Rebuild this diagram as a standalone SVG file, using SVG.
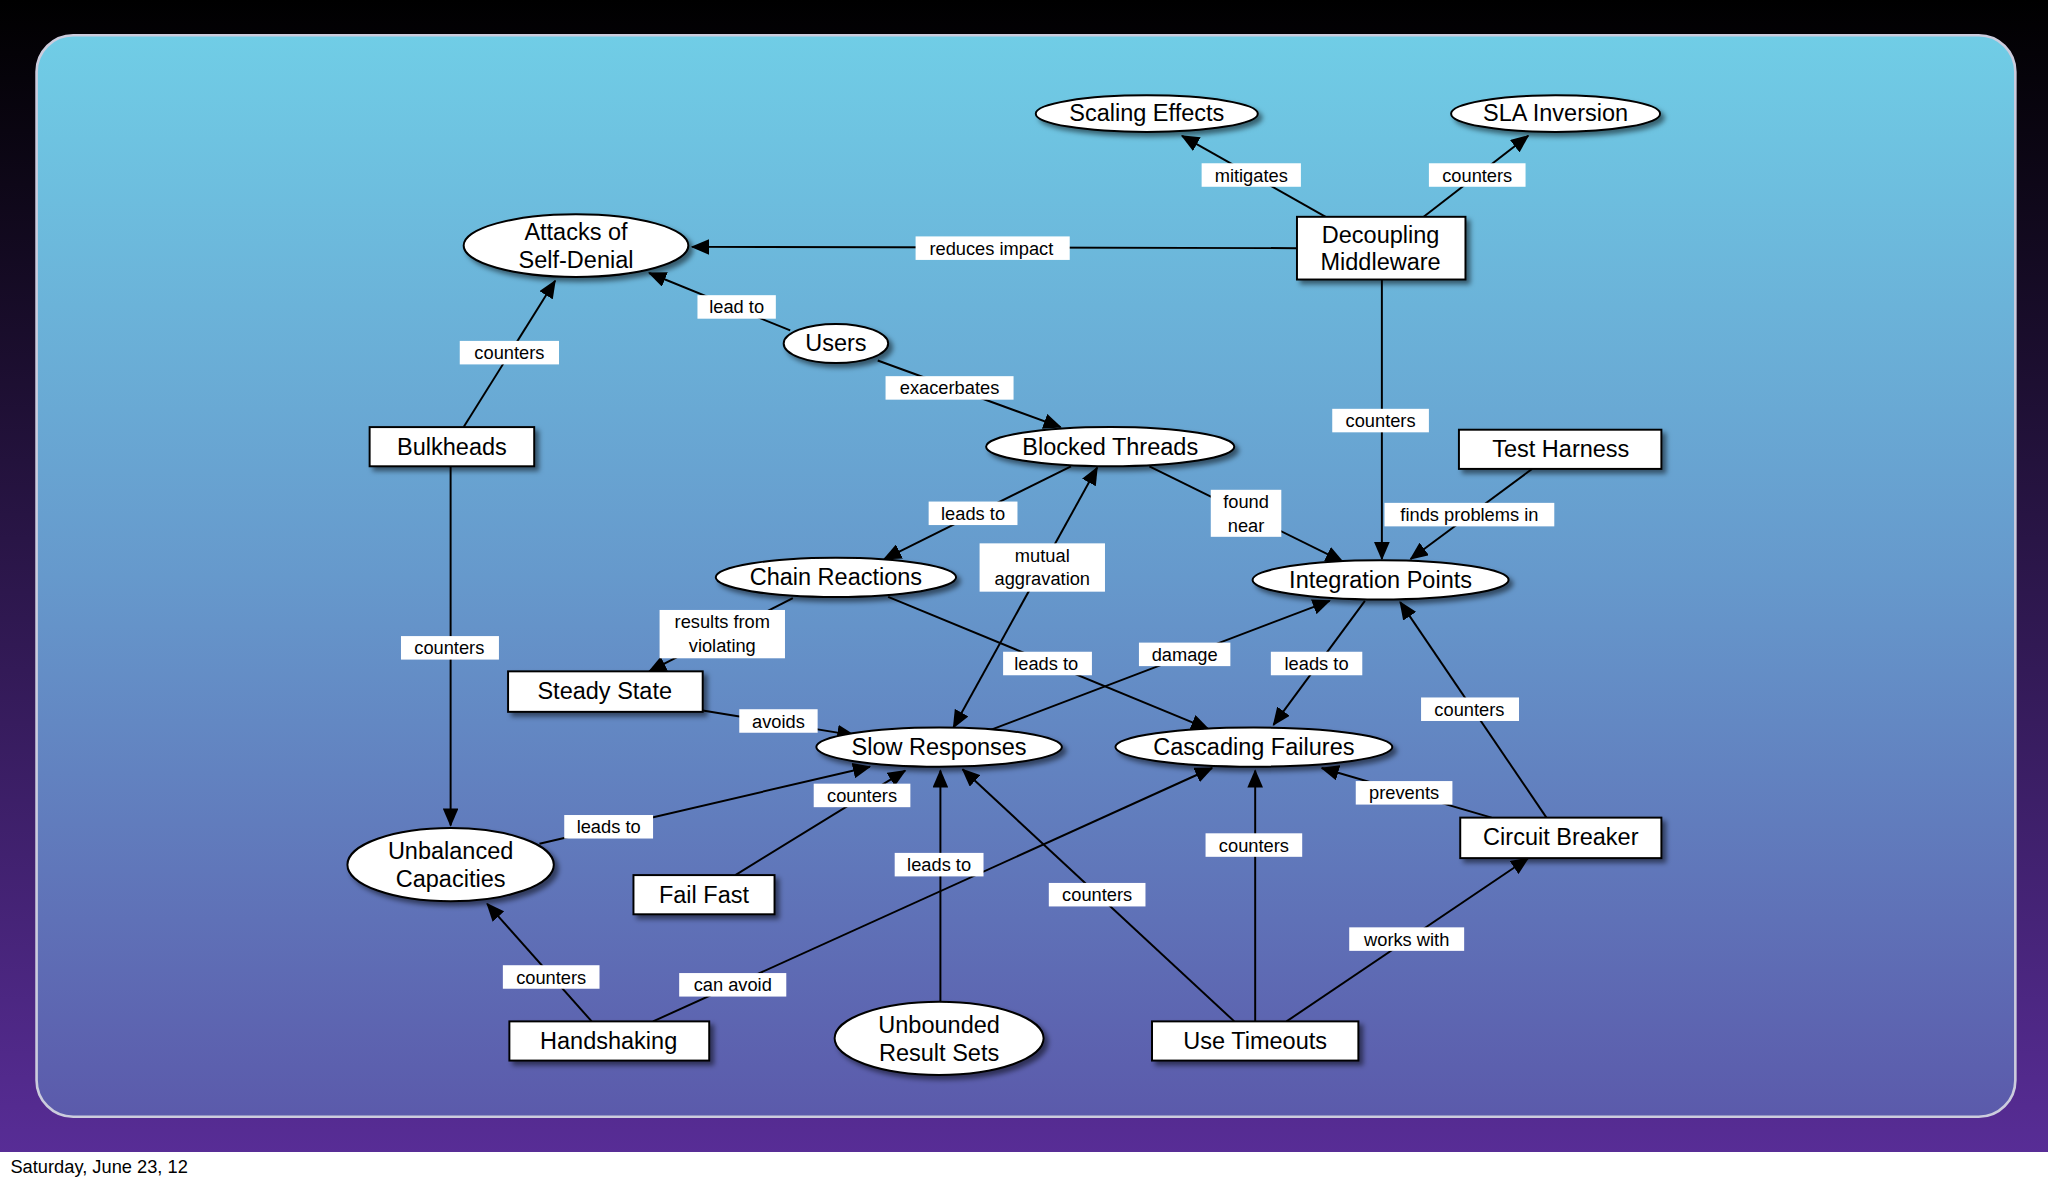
<svg xmlns="http://www.w3.org/2000/svg" width="2048" height="1184" viewBox="0 0 2048 1184">
<defs>
<linearGradient id="bg" x1="0" y1="0" x2="0" y2="1"><stop offset="0" stop-color="#000"/><stop offset="1" stop-color="#5a2e9a"/></linearGradient>
<linearGradient id="panel" x1="0" y1="0" x2="0" y2="1"><stop offset="0" stop-color="#70cde6"/><stop offset="0.5" stop-color="#6699cc"/><stop offset="1" stop-color="#5b5aab"/></linearGradient>
<marker id="ah" markerWidth="14" markerHeight="12" refX="13" refY="6" orient="auto" markerUnits="userSpaceOnUse"><path d="M0,0 L14,6 L0,12 z" fill="#000"/></marker>
<marker id="as" markerWidth="14" markerHeight="12" refX="1" refY="6" orient="auto" markerUnits="userSpaceOnUse"><path d="M14,0 L0,6 L14,12 z" fill="#000"/></marker>
<filter id="sh" x="-20%" y="-30%" width="150%" height="180%"><feDropShadow dx="3" dy="3" stdDeviation="2" flood-color="#000" flood-opacity="0.5"/></filter>
</defs>
<style>
.n{fill:#fff;stroke:#000;stroke-width:1.5;filter:url(#sh)}
.t{font-family:"Liberation Sans",Arial,sans-serif;font-size:18px;text-anchor:middle;fill:#000}
.l{font-family:"Liberation Sans",Arial,sans-serif;font-size:14px;text-anchor:middle;fill:#000}
.lb{fill:#fff}
.e{stroke:#000;stroke-width:1.5;fill:none;marker-end:url(#ah)}
</style>
<rect width="2048" height="1184" fill="url(#bg)"/>
<g transform="scale(1.30612)">
<rect x="28" y="27" width="1515" height="828" rx="28" fill="url(#panel)" stroke="#ccd" stroke-width="2"/>
<rect x="0" y="882" width="1568" height="30" fill="#fff"/>
<text x="8" y="898" style="font-family:'Liberation Sans',Arial,sans-serif;font-size:14px">Saturday, June 23, 12</text>
<g id="connectors">
<line class="e" x1="1015" y1="166" x2="905" y2="104"/>
<line class="e" x1="1090" y1="166" x2="1170" y2="104"/>
<line class="e" x1="993" y1="190" x2="530" y2="189"/>
<line class="e" x1="1058" y1="214" x2="1058" y2="428"/>
<line class="e" x1="605" y1="253" x2="497" y2="209"/>
<line class="e" x1="672" y1="276" x2="812" y2="327"/>
<line class="e" x1="355" y1="327" x2="425" y2="215"/>
<line class="e" x1="345" y1="357" x2="345" y2="632"/>
<line class="e" x1="820" y1="357" x2="677" y2="428"/>
<line class="e" x1="880" y1="357" x2="1028" y2="430"/>
<line class="e" x1="1173" y1="359" x2="1080" y2="428"/>
<line class="e" x1="840" y1="358" x2="730" y2="557" marker-start="url(#as)"/>
<line class="e" x1="607" y1="458" x2="497" y2="514"/>
<line class="e" x1="680" y1="457" x2="925" y2="558"/>
<line class="e" x1="538" y1="544" x2="654" y2="563"/>
<line class="e" x1="758" y1="559" x2="1018" y2="460"/>
<line class="e" x1="1045" y1="460" x2="975" y2="555"/>
<line class="e" x1="1184" y1="626" x2="1072" y2="461"/>
<line class="e" x1="1142" y1="626" x2="1012" y2="588"/>
<line class="e" x1="413" y1="646" x2="666" y2="587"/>
<line class="e" x1="563" y1="670" x2="693" y2="590"/>
<line class="e" x1="720" y1="767" x2="720" y2="590"/>
<line class="e" x1="945" y1="782" x2="737" y2="589"/>
<line class="e" x1="961" y1="782" x2="961" y2="590"/>
<line class="e" x1="985" y1="782" x2="1170" y2="657"/>
<line class="e" x1="453" y1="782" x2="373" y2="692"/>
<line class="e" x1="500" y1="782" x2="928" y2="588"/>
<g>
<rect class="lb" x="920" y="125" width="76" height="18"/><text class="l" x="958" y="139">mitigates</text>
<rect class="lb" x="1094" y="125" width="74" height="18"/><text class="l" x="1131" y="139">counters</text>
<rect class="lb" x="701" y="181" width="118" height="18"/><text class="l" x="759" y="195">reduces impact</text>
<rect class="lb" x="1020" y="313" width="74" height="18"/><text class="l" x="1057" y="327">counters</text>
<rect class="lb" x="534" y="226" width="60" height="18"/><text class="l" x="564" y="240">lead to</text>
<rect class="lb" x="678" y="288" width="98" height="18"/><text class="l" x="727" y="302">exacerbates</text>
<rect class="lb" x="352" y="261" width="76" height="18"/><text class="l" x="390" y="275">counters</text>
<rect class="lb" x="307" y="487" width="75" height="18"/><text class="l" x="344" y="501">counters</text>
<rect class="lb" x="711" y="384" width="68" height="18"/><text class="l" x="745" y="398">leads to</text>
<rect class="lb" x="927" y="375" width="54" height="36"/><text class="l" x="954" y="389">found</text><text class="l" x="954" y="407">near</text>
<rect class="lb" x="1060" y="385" width="130" height="18"/><text class="l" x="1125" y="399">finds problems in</text>
<rect class="lb" x="750" y="416" width="96" height="37"/><text class="l" x="798" y="430">mutual</text><text class="l" x="798" y="448">aggravation</text>
<rect class="lb" x="505" y="467" width="96" height="37"/><text class="l" x="553" y="481">results from</text><text class="l" x="553" y="499">violating</text>
<rect class="lb" x="768" y="499" width="68" height="18"/><text class="l" x="801" y="513">leads to</text>
<rect class="lb" x="566" y="543" width="60" height="18"/><text class="l" x="596" y="557">avoids</text>
<rect class="lb" x="872" y="492" width="70" height="18"/><text class="l" x="907" y="506">damage</text>
<rect class="lb" x="973" y="499" width="70" height="18"/><text class="l" x="1008" y="513">leads to</text>
<rect class="lb" x="1088" y="534" width="75" height="18"/><text class="l" x="1125" y="548">counters</text>
<rect class="lb" x="1038" y="598" width="74" height="18"/><text class="l" x="1075" y="612">prevents</text>
<rect class="lb" x="432" y="624" width="68" height="18"/><text class="l" x="466" y="638">leads to</text>
<rect class="lb" x="623" y="600" width="74" height="18"/><text class="l" x="660" y="614">counters</text>
<rect class="lb" x="685" y="653" width="68" height="18"/><text class="l" x="719" y="667">leads to</text>
<rect class="lb" x="803" y="676" width="74" height="18"/><text class="l" x="840" y="690">counters</text>
<rect class="lb" x="923" y="638" width="74" height="18"/><text class="l" x="960" y="652">counters</text>
<rect class="lb" x="1033" y="710" width="88" height="18"/><text class="l" x="1077" y="724">works with</text>
<rect class="lb" x="385" y="739" width="74" height="18"/><text class="l" x="422" y="753">counters</text>
<rect class="lb" x="520" y="745" width="82" height="18"/><text class="l" x="561" y="759">can avoid</text>
</g>
</g>
<g id="scaling"><ellipse class="n" cx="878" cy="87" rx="85" ry="14"/><text class="t" x="878" y="93">Scaling Effects</text></g>
<g id="sla"><ellipse class="n" cx="1191" cy="87" rx="80" ry="14"/><text class="t" x="1191" y="93">SLA Inversion</text></g>
<g id="attacks"><ellipse class="n" cx="441" cy="188" rx="86" ry="24"/><text class="t" x="441" y="184">Attacks of</text><text class="t" x="441" y="205">Self-Denial</text></g>
<g id="decoupling"><rect class="n" x="993" y="166" width="129" height="48"/><text class="t" x="1057" y="186">Decoupling</text><text class="t" x="1057" y="207">Middleware</text></g>
<g id="users"><ellipse class="n" cx="640" cy="263" rx="40" ry="15"/><text class="t" x="640" y="269">Users</text></g>
<g id="bulkheads"><rect class="n" x="283" y="327" width="126" height="30"/><text class="t" x="346" y="348">Bulkheads</text></g>
<g id="blocked"><ellipse class="n" cx="850" cy="342" rx="95" ry="15"/><text class="t" x="850" y="348">Blocked Threads</text></g>
<g id="testharness"><rect class="n" x="1117" y="329" width="155" height="30"/><text class="t" x="1195" y="350">Test Harness</text></g>
<g id="chain"><ellipse class="n" cx="640" cy="442" rx="92" ry="15"/><text class="t" x="640" y="448">Chain Reactions</text></g>
<g id="integration"><ellipse class="n" cx="1057" cy="444" rx="98" ry="15"/><text class="t" x="1057" y="450">Integration Points</text></g>
<g id="steady"><rect class="n" x="389" y="514" width="149" height="31"/><text class="t" x="463" y="535">Steady State</text></g>
<g id="slow"><ellipse class="n" cx="719" cy="572" rx="94" ry="15"/><text class="t" x="719" y="578">Slow Responses</text></g>
<g id="cascading"><ellipse class="n" cx="960" cy="572" rx="106" ry="15"/><text class="t" x="960" y="578">Cascading Failures</text></g>
<g id="circuit"><rect class="n" x="1118" y="626" width="154" height="31"/><text class="t" x="1195" y="647">Circuit Breaker</text></g>
<g id="unbalanced"><ellipse class="n" cx="345" cy="662" rx="79" ry="28"/><text class="t" x="345" y="658">Unbalanced</text><text class="t" x="345" y="679">Capacities</text></g>
<g id="failfast"><rect class="n" x="485" y="670" width="108" height="30"/><text class="t" x="539" y="691">Fail Fast</text></g>
<g id="handshaking"><rect class="n" x="390" y="782" width="153" height="30"/><text class="t" x="466" y="803">Handshaking</text></g>
<g id="unbounded"><ellipse class="n" cx="719" cy="795" rx="80" ry="28"/><text class="t" x="719" y="791">Unbounded</text><text class="t" x="719" y="812">Result Sets</text></g>
<g id="timeouts"><rect class="n" x="882" y="782" width="158" height="30"/><text class="t" x="961" y="803">Use Timeouts</text></g>
</g>
</svg>
